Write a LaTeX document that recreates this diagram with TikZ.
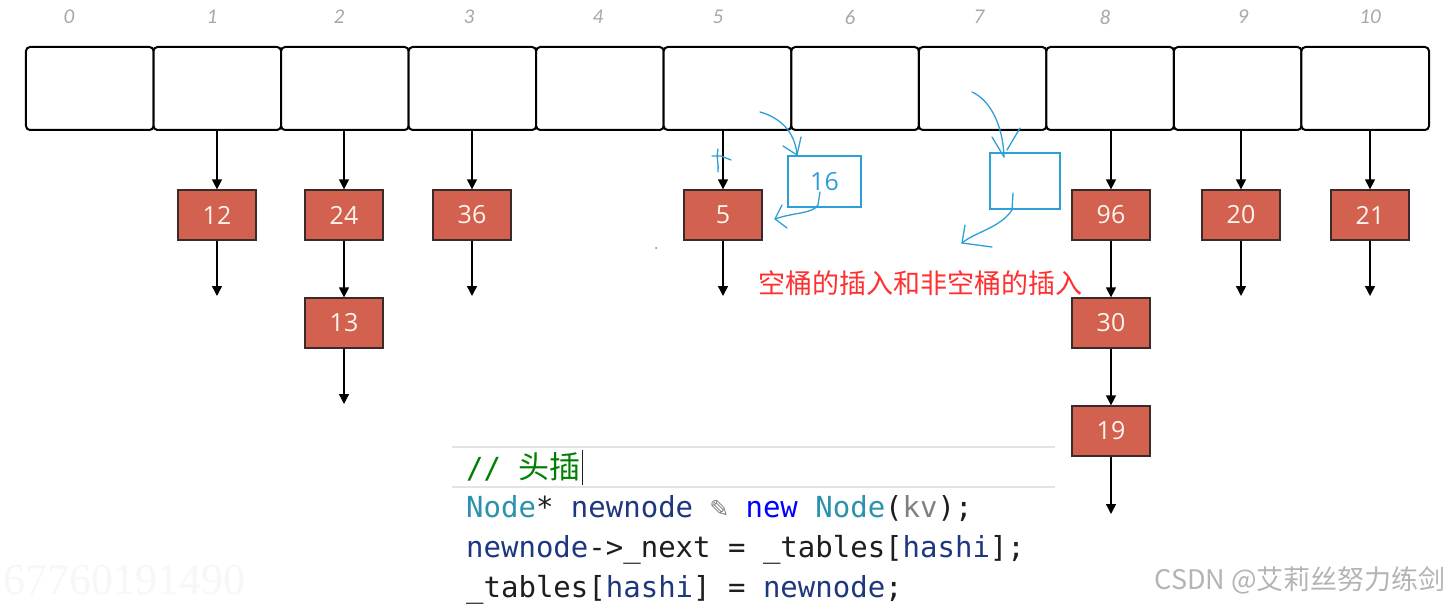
\documentclass[tikz,border=0pt]{standalone}
\usepackage{fontspec}
\setmainfont{Open Sans}
\newfontfamily\cjk{Noto Sans CJK SC}
\newfontfamily\idxfont{Carlito}
\newfontfamily\codefont{DejaVu Sans Mono}
\newfontfamily\symfont{DejaVu Sans}
\newfontfamily\wmfont{Liberation Serif}
\usetikzlibrary{arrows.meta}
\definecolor{boxred}{HTML}{D2614F}
\definecolor{boxedge}{HTML}{3A2A28}
\definecolor{inkblue}{HTML}{2E9FD8}
\definecolor{idxgray}{HTML}{A8A8A8}
\definecolor{notered}{HTML}{FF3030}
\definecolor{cmtgreen}{HTML}{008000}
\definecolor{typec}{HTML}{2B91AF}
\definecolor{varc}{HTML}{1F377F}
\definecolor{kwc}{HTML}{0000FF}
\definecolor{parc}{HTML}{808080}
\definecolor{txtc}{HTML}{1E1E1E}
\definecolor{sepc}{HTML}{E4E4E4}
\definecolor{wmgray}{HTML}{B4B4B4}
\definecolor{boxtext}{HTML}{FFF4EC}
\tikzset{
  cell/.style={draw=black, line width=2pt, rounded corners=4pt, minimum width=127.55pt, minimum height=83pt, inner sep=0pt, fill=white},
  idx/.style={font=\idxfont\itshape\fontsize{21}{21}\selectfont, text=idxgray, inner sep=0pt},
  rbox/.style={draw=boxedge, line width=1.3pt, fill=boxred, minimum width=78pt, minimum height=50pt, inner sep=0pt, text=boxtext, font=\fontsize{25}{25}\selectfont},
  bbox/.style={draw=inkblue, line width=2pt, minimum width=73pt, minimum height=51pt, inner sep=0pt, text=inkblue, font=\fontsize{25}{25}\selectfont},
  arr/.style={draw=black, line width=1.4pt, -{Triangle[width=10pt,length=10pt]}},
  ink/.style={draw=inkblue, line width=1.3pt, line cap=round, line join=round},
  code/.style={anchor=base west, inner sep=0pt, font=\codefont\fontsize{29}{29}\selectfont, text=txtc}
}
\begin{document}
\begin{tikzpicture}[x=1pt,y=-1pt]
\useasboundingbox (0,0) rectangle (1451,607);
\fill[white] (0,0) rectangle (1451,607);
% faint watermark
\node[anchor=base west, inner sep=0pt, text=black!3, font=\wmfont\fontsize{44}{44}\selectfont] (wm) at (3,594) {67760191490};
% cells
\foreach \i in {0,...,10} {
  \node[cell] (c\i) at ({89.77+127.545*\i},88.5) {};
}
% index labels
\foreach \i/\x in {0/69,1/212,2/339,3/469,4/598,5/718,6/850,7/979,8/1105,9/1243,10/1370} {
  \node[idx] (l\i) at (\x,17) {\i};
}
% red list nodes
\node[rbox] (n12) at (217,215) {12};
\node[rbox] (n24) at (344,215) {24};
\node[rbox] (n13) at (344,323) {13};
\node[rbox] (n36) at (472,215) {36};
\node[rbox] (n5) at (723,215) {5};
\node[rbox] (n96) at (1111,215) {96};
\node[rbox] (n30) at (1111,323) {30};
\node[rbox] (n19) at (1111,431) {19};
\node[rbox] (n20) at (1241,215) {20};
\node[rbox] (n21) at (1370,215) {21};
% end coordinates
\coordinate (e12) at (217,296);
\coordinate (e13) at (344,404);
\coordinate (e36) at (472,296);
\coordinate (e5) at (723,296);
\coordinate (e19) at (1111,514);
\coordinate (e20) at (1241,296);
\coordinate (e21) at (1370,296);
% arrows
\draw[arr] (n12 |- c1.south) -- (n12.north);
\draw[arr] (n24 |- c2.south) -- (n24.north);
\draw[arr] (n36 |- c3.south) -- (n36.north);
\draw[arr] (n5 |- c5.south) -- (n5.north);
\draw[arr] (n96 |- c8.south) -- (n96.north);
\draw[arr] (n20 |- c9.south) -- (n20.north);
\draw[arr] (n21 |- c10.south) -- (n21.north);
\draw[arr] (n12.south) -- (e12);
\draw[arr] (n24.south) -- (n13.north);
\draw[arr] (n13.south) -- (e13);
\draw[arr] (n36.south) -- (e36);
\draw[arr] (n5.south) -- (e5);
\draw[arr] (n96.south) -- (n30.north);
\draw[arr] (n30.south) -- (n19.north);
\draw[arr] (n19.south) -- (e19);
\draw[arr] (n20.south) -- (e20);
\draw[arr] (n21.south) -- (e21);
% blue boxes
\node[bbox] (b16) at (824.5,181.5) {16};
\node[bbox, minimum width=70pt, minimum height=56pt] (bE) at (1025,181) {};
% hand-drawn strokes
\draw[ink] (760,112) .. controls (778,117) and (795,130) .. (797,155);
\draw[ink] (783,146) -- (797,155) -- (801,137);
\draw[ink] (718,149) .. controls (716,158) and (719,165) .. (718,172);
\draw[ink] (712,156) -- (721,156) -- (731,160);
\draw[ink] (820,192) -- (818,205) .. controls (812,214) and (795,212) .. (775,219);
\draw[ink] (782,205) -- (775,219) -- (787,228);
\draw[ink] (972,92) .. controls (990,100) and (1003,125) .. (1004,157);
\draw[ink] (992,137) -- (1004,157);
\draw[ink] (1020,128) -- (1007,150);
\draw[ink] (1013,193) -- (1012,210) .. controls (1000,228) and (975,232) .. (962,243);
\draw[ink] (965,225) -- (962,243) -- (992,247);
\fill[inkblue] (656,248) circle (1pt);
% red note
\node[inner sep=0pt, text=notered, font=\cjk\fontsize{27}{27}\selectfont] (note) at (920,283) {空桶的插入和非空桶的插入};
% code block
\coordinate (s1a) at (452,447); \coordinate (s1b) at (1055,447);
\coordinate (s2a) at (452,487); \coordinate (s2b) at (1055,487);
\draw[sepc, line width=1.5pt] (s1a) -- (s1b);
\draw[sepc, line width=1.5pt] (s2a) -- (s2b);
\node[code, text=cmtgreen] (cm) at (466,478) {//~{\cjk\fontsize{31}{31}\selectfont 头插}};
\draw[txtc, line width=1pt] ([xshift=2pt]cm.east |- 0,450) -- ([xshift=2pt]cm.east |- 0,485);
\node[code] (k1) at (466,517) {{\color{typec}Node}* {\color{varc}newnode} \makebox[0.602em]{\symfont\fontsize{24}{24}\selectfont\color{parc}✎} {\color{kwc}new} {\color{typec}Node}({\color{parc}kv});};
\node[code] (k2) at (466,557) {{\color{varc}newnode}->\_next = \_tables[{\color{varc}hashi}];};
\node[code] (k3) at (466,597) {\_tables[{\color{varc}hashi}] = {\color{varc}newnode};};
% CSDN watermark
\node[anchor=east, inner sep=0pt, text=wmgray, font=\cjk\fontsize{27}{27}\selectfont] (csdn) at (1446,580) {CSDN @艾莉丝努力练剑};
\end{tikzpicture}
\end{document}
